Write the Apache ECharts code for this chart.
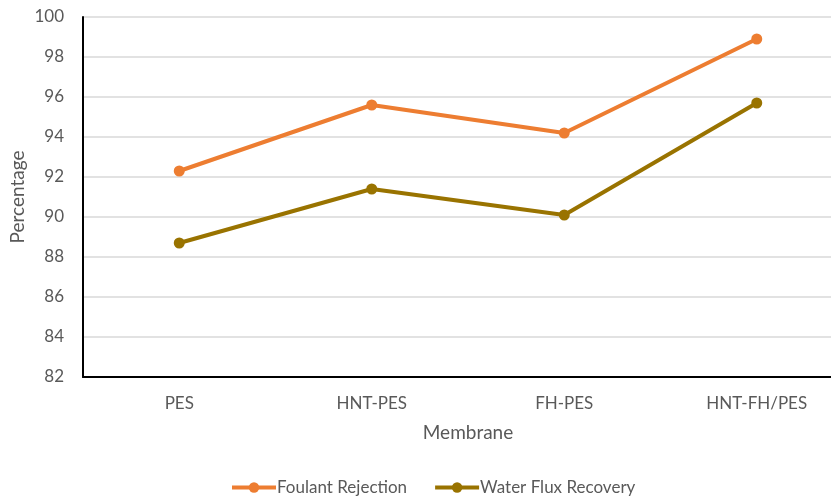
<!DOCTYPE html>
<html>
<head>
<meta charset="utf-8">
<script src="https://cdn.jsdelivr.net/npm/echarts@6/dist/echarts.min.js"></script>
<style>
  html, body { margin: 0; padding: 0; background: #fff; overflow: hidden; }
  #chart { width: 853px; height: 498px; }
</style>
</head>
<body>
<div id="chart"></div>
<script>
const membranes = ['PES', 'HNT-PES', 'FH-PES', 'HNT-FH/PES']
const foulantRejection = [92.3, 95.6, 94.2, 98.9]
const waterFluxRecovery = [88.7, 91.4, 90.1, 95.7]

const textColor = '#595959'
const fontFamily = 'Lato, Open Sans, sans-serif'

// plot runs past the right edge of the picture, like the original
const chart = echarts.init(document.getElementById('chart'))
chart.setOption({
    backgroundColor: '#fff',
    animation: false,
    grid: {
        left: 83,
        top: 17,
        right: 0,
        height: 360,
        outerBoundsMode: 'none'
    },
    legend: {
        top: 474,
        left: 225,
        itemWidth: 44,
        itemHeight: 13,
        itemGap: 26,
        lineStyle: { width: 4 },
        textStyle: { color: textColor, fontSize: 17, fontFamily: fontFamily, padding: [0, 0, 0, -4] },
        data: ['Foulant Rejection', 'Water Flux Recovery']
    },
    xAxis: {
        type: 'category',
        data: membranes,
        name: 'Membrane',
        nameLocation: 'middle',
        nameGap: 46,
        nameTextStyle: { color: textColor, fontSize: 19, fontFamily: fontFamily },
        axisLine: { lineStyle: { color: '#000', width: 2 } },
        axisTick: { show: false },
        axisLabel: { color: textColor, fontSize: 17, fontFamily: fontFamily, margin: 18 }
    },
    yAxis: {
        type: 'value',
        min: 82,
        max: 100,
        interval: 2,
        name: 'Percentage',
        nameLocation: 'middle',
        nameGap: 56,
        nameMoveOverlap: false,
        nameTextStyle: { color: textColor, fontSize: 19, fontFamily: fontFamily },
        axisLine: { show: true, lineStyle: { color: '#000', width: 2 } },
        axisTick: { show: false },
        axisLabel: { color: textColor, fontSize: 17, fontFamily: fontFamily, margin: 19 },
        splitLine: { lineStyle: { color: '#d9d9d9', width: 1.5 } }
    },
    series: [
        {
            name: 'Foulant Rejection',
            type: 'line',
            data: foulantRejection,
            symbol: 'circle',
            symbolSize: 11,
            itemStyle: { color: '#ED7D31' },
            lineStyle: { width: 4, color: '#ED7D31' }
        },
        {
            name: 'Water Flux Recovery',
            type: 'line',
            data: waterFluxRecovery,
            symbol: 'circle',
            symbolSize: 11,
            itemStyle: { color: '#997300' },
            lineStyle: { width: 4, color: '#997300' }
        }
    ]
})
</script>
</body>
</html>
